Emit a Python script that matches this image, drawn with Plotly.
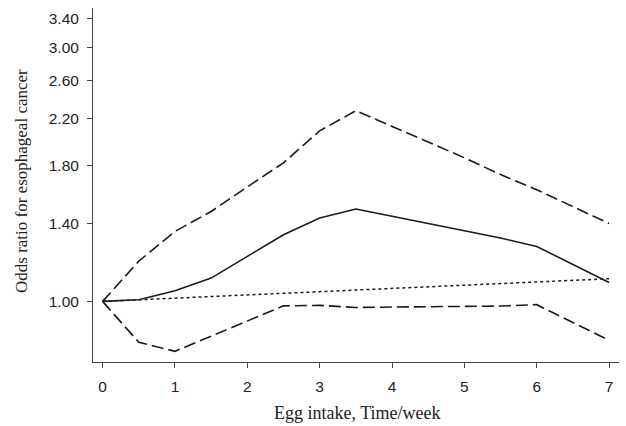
import plotly.graph_objects as go
import math

# Egg intake (times/week)
x_knots = [0, 0.5, 1, 1.5, 2, 2.5, 3, 3.5, 4, 4.5, 5, 5.5, 6, 7]
or_estimate = [1.00, 1.007, 1.047, 1.106, 1.215, 1.334, 1.434, 1.491, 1.445, 1.40, 1.36, 1.315, 1.268, 1.085]
or_upper = [1.00, 1.19, 1.353, 1.475, 1.64, 1.82, 2.09, 2.279, 2.13, 1.99, 1.86, 1.73, 1.62, 1.40]
or_lower = [1.00, 0.838, 0.806, 0.861, 0.919, 0.981, 0.983, 0.974, 0.976, 0.977, 0.978, 0.980, 0.986, 0.845]

x_linear = [0, 3.5, 7]
or_linear = [1.00, 1.049, 1.103]

y_tickvals = [1.00, 1.40, 1.80, 2.20, 2.60, 3.00, 3.40]
y_ticktext = ["1.00", "1.40", "1.80", "2.20", "2.60", "3.00", "3.40"]
x_tickvals = [0, 1, 2, 3, 4, 5, 6, 7]

line_col = "#1a1a1a"
axis_col = "#444"
text_col = "#222"
sans = "Liberation Sans, Arial"
serif = "Liberation Serif, Times New Roman"

L, R, T, B = 93, 7, 8, 64
W, H = 626, 426

fig = go.Figure()
fig.add_trace(go.Scatter(x=x_knots, y=or_upper, mode="lines",
                         line=dict(color=line_col, width=1.6, dash="12px,5px")))
fig.add_trace(go.Scatter(x=x_knots, y=or_lower, mode="lines",
                         line=dict(color=line_col, width=1.6, dash="12px,5px")))
fig.add_trace(go.Scatter(x=x_linear, y=or_linear, mode="lines",
                         line=dict(color=line_col, width=1.5, dash="3px,3px")))
fig.add_trace(go.Scatter(x=x_knots, y=or_estimate, mode="lines",
                         line=dict(color=line_col, width=1.6)))

fig.update_layout(
    width=W, height=H,
    margin=dict(l=L, r=R, t=T, b=B, autoexpand=False),
    paper_bgcolor="white", plot_bgcolor="white",
    showlegend=False,
    font=dict(family=sans, size=15.5, color=text_col),
)
fig.update_xaxes(
    range=[-0.133, 7.137],
    tickvals=x_tickvals,
    ticks="outside", ticklen=5, tickcolor=axis_col, tickwidth=1,
    ticklabelstandoff=5,
    showline=True, linecolor=axis_col, linewidth=1,
    showgrid=False, zeroline=False, automargin=False,
    tickfont=dict(family=sans, size=15.5, color=text_col),
)
fig.update_yaxes(
    type="log",
    range=[math.log10(0.7696), math.log10(3.553)],
    tickvals=y_tickvals, ticktext=y_ticktext,
    ticks="outside", ticklen=5, tickcolor=axis_col, tickwidth=1,
    ticklabelstandoff=5,
    showline=True, linecolor=axis_col, linewidth=1,
    showgrid=False, zeroline=False, automargin=False,
    tickfont=dict(family=sans, size=15.5, color=text_col),
)

plot_w = W - L - R
plot_h = H - T - B
fig.add_annotation(
    text="Egg intake, Time/week", showarrow=False,
    xref="paper", yref="paper",
    x=(357 - L) / plot_w, y=0, xanchor="center", yanchor="middle",
    yshift=-(413 - (H - B)),
    font=dict(family=serif, size=18, color=text_col),
)
fig.add_annotation(
    text="Odds ratio for esophageal cancer", showarrow=False,
    xref="paper", yref="paper", textangle=-90,
    x=0, xshift=-(L - 21), xanchor="center",
    y=((H - B) - 181) / plot_h, yanchor="middle",
    font=dict(family=serif, size=17, color=text_col),
)

fig.write_html("out.html")
